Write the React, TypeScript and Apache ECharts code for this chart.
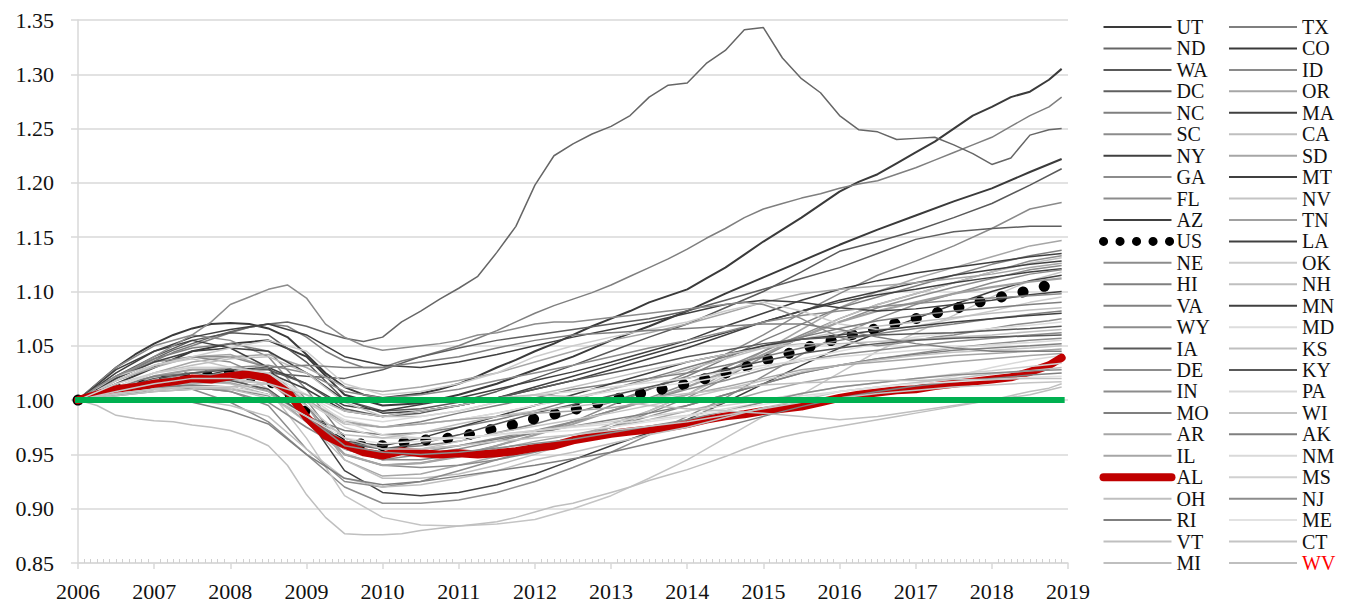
import React, { useEffect, useRef } from "react";
import * as echarts from "echarts";

// x positions (months since Jan 2006)
const QUARTER_MONTHS = [0, 3, 6, 9, 12, 15, 18, 21, 24, 27, 30, 33, 36, 39, 42, 45, 48, 51, 54, 57, 60, 63, 66, 69, 72, 75, 78, 81, 84, 87, 90, 93, 96, 99, 102, 105, 108, 111, 114, 117, 120, 123, 126, 129, 132, 135, 138, 141, 144, 147, 150, 153, 155];
const HALF_MONTHS = [0, 6, 12, 18, 24, 30, 36, 42, 48, 54, 60, 66, 72, 78, 84, 90, 96, 102, 108, 114, 120, 126, 132, 138, 144, 150, 155];

// quarterly series
const UT = [1.000, 1.015, 1.030, 1.042, 1.052, 1.060, 1.066, 1.070, 1.071, 1.070, 1.066, 1.058, 1.042, 1.025, 1.012, 1.005, 1.002, 1.004, 1.006, 1.010, 1.015, 1.022, 1.030, 1.037, 1.045, 1.052, 1.060, 1.068, 1.075, 1.082, 1.090, 1.096, 1.102, 1.112, 1.122, 1.134, 1.146, 1.157, 1.168, 1.180, 1.192, 1.201, 1.208, 1.218, 1.228, 1.238, 1.250, 1.262, 1.270, 1.279, 1.284, 1.295, 1.305];
const TX = [1.000, 1.010, 1.020, 1.028, 1.036, 1.044, 1.050, 1.056, 1.062, 1.067, 1.070, 1.068, 1.058, 1.045, 1.036, 1.030, 1.030, 1.036, 1.040, 1.045, 1.050, 1.057, 1.064, 1.072, 1.080, 1.087, 1.093, 1.099, 1.106, 1.114, 1.122, 1.130, 1.139, 1.149, 1.158, 1.168, 1.176, 1.181, 1.186, 1.190, 1.195, 1.199, 1.202, 1.208, 1.214, 1.221, 1.228, 1.235, 1.242, 1.252, 1.262, 1.270, 1.279];
const ND = [1.000, 1.012, 1.022, 1.030, 1.038, 1.046, 1.052, 1.058, 1.063, 1.067, 1.070, 1.072, 1.068, 1.062, 1.057, 1.054, 1.058, 1.072, 1.082, 1.093, 1.103, 1.114, 1.136, 1.160, 1.198, 1.225, 1.236, 1.245, 1.252, 1.262, 1.279, 1.290, 1.292, 1.310, 1.322, 1.341, 1.343, 1.315, 1.296, 1.283, 1.262, 1.249, 1.247, 1.240, 1.241, 1.242, 1.235, 1.227, 1.217, 1.223, 1.244, 1.249, 1.250];
const US = [1.000, 1.005, 1.009, 1.012, 1.016, 1.019, 1.021, 1.023, 1.025, 1.022, 1.018, 1.008, 0.988, 0.972, 0.963, 0.959, 0.958, 0.961, 0.963, 0.964, 0.966, 0.970, 0.974, 0.978, 0.983, 0.987, 0.991, 0.996, 1.000, 1.004, 1.008, 1.011, 1.015, 1.020, 1.025, 1.030, 1.036, 1.041, 1.047, 1.052, 1.057, 1.062, 1.066, 1.071, 1.075, 1.080, 1.084, 1.089, 1.093, 1.097, 1.101, 1.106, 1.109];
const WY = [1.000, 1.012, 1.022, 1.030, 1.040, 1.050, 1.060, 1.072, 1.088, 1.095, 1.102, 1.106, 1.094, 1.070, 1.058, 1.050, 1.046, 1.048, 1.050, 1.052, 1.055, 1.060, 1.062, 1.066, 1.070, 1.072, 1.072, 1.074, 1.076, 1.078, 1.080, 1.082, 1.084, 1.086, 1.088, 1.090, 1.088, 1.082, 1.075, 1.066, 1.058, 1.052, 1.050, 1.052, 1.055, 1.058, 1.060, 1.063, 1.066, 1.069, 1.071, 1.073, 1.075];
const AL = [1.000, 1.005, 1.010, 1.012, 1.015, 1.017, 1.020, 1.019, 1.022, 1.024, 1.020, 1.008, 0.984, 0.967, 0.959, 0.952, 0.949, 0.953, 0.951, 0.950, 0.951, 0.950, 0.951, 0.953, 0.956, 0.958, 0.963, 0.966, 0.969, 0.971, 0.973, 0.975, 0.978, 0.982, 0.985, 0.987, 0.990, 0.992, 0.994, 0.998, 1.002, 1.005, 1.007, 1.009, 1.010, 1.013, 1.015, 1.017, 1.019, 1.021, 1.026, 1.032, 1.039];
const MI = [1.000, 0.995, 0.986, 0.983, 0.981, 0.980, 0.977, 0.975, 0.972, 0.966, 0.958, 0.940, 0.913, 0.892, 0.877, 0.876, 0.876, 0.877, 0.880, 0.882, 0.884, 0.886, 0.888, 0.892, 0.897, 0.902, 0.905, 0.910, 0.915, 0.920, 0.926, 0.931, 0.936, 0.942, 0.948, 0.955, 0.961, 0.966, 0.970, 0.973, 0.976, 0.979, 0.982, 0.985, 0.988, 0.991, 0.994, 0.997, 1.000, 1.004, 1.008, 1.011, 1.015];

// half-yearly series
const CO = [1.000, 1.015, 1.030, 1.045, 1.052, 1.055, 1.040, 1.005, 0.995, 0.997, 1.005, 1.015, 1.028, 1.040, 1.055, 1.068, 1.082, 1.098, 1.113, 1.128, 1.143, 1.157, 1.170, 1.183, 1.195, 1.210, 1.222];
const WA = [1.000, 1.022, 1.040, 1.055, 1.062, 1.060, 1.035, 1.000, 0.990, 0.992, 0.998, 1.008, 1.020, 1.032, 1.045, 1.058, 1.070, 1.085, 1.100, 1.118, 1.137, 1.146, 1.156, 1.168, 1.181, 1.198, 1.213];
const ID = [1.000, 1.030, 1.050, 1.060, 1.055, 1.040, 1.000, 0.955, 0.945, 0.945, 0.950, 0.958, 0.968, 0.980, 0.995, 1.010, 1.025, 1.042, 1.060, 1.080, 1.098, 1.115, 1.128, 1.142, 1.158, 1.176, 1.182];
const DC = [1.000, 1.008, 1.012, 1.018, 1.022, 1.025, 1.022, 1.020, 1.028, 1.040, 1.048, 1.055, 1.060, 1.065, 1.070, 1.075, 1.082, 1.092, 1.102, 1.112, 1.122, 1.135, 1.148, 1.155, 1.158, 1.160, 1.160];
const OR = [1.000, 1.018, 1.030, 1.040, 1.042, 1.030, 0.995, 0.945, 0.930, 0.932, 0.940, 0.948, 0.955, 0.965, 0.978, 0.990, 1.005, 1.025, 1.045, 1.065, 1.085, 1.100, 1.112, 1.122, 1.132, 1.142, 1.147];
const NC = [1.000, 1.020, 1.038, 1.048, 1.052, 1.045, 1.010, 0.965, 0.955, 0.958, 0.962, 0.970, 0.978, 0.988, 0.998, 1.010, 1.022, 1.038, 1.055, 1.070, 1.085, 1.095, 1.105, 1.115, 1.125, 1.133, 1.138];
const MA = [1.000, 1.006, 1.012, 1.020, 1.028, 1.030, 1.015, 0.995, 0.990, 0.996, 1.002, 1.010, 1.018, 1.026, 1.035, 1.045, 1.055, 1.068, 1.080, 1.092, 1.102, 1.110, 1.117, 1.122, 1.127, 1.132, 1.135];
const SC = [1.000, 1.018, 1.032, 1.040, 1.040, 1.030, 0.995, 0.955, 0.945, 0.950, 0.955, 0.962, 0.970, 0.980, 0.990, 1.002, 1.015, 1.030, 1.045, 1.060, 1.075, 1.088, 1.098, 1.108, 1.118, 1.128, 1.133];
const CA = [1.000, 1.010, 1.015, 1.018, 1.015, 1.005, 0.980, 0.945, 0.928, 0.928, 0.932, 0.940, 0.950, 0.962, 0.975, 0.990, 1.005, 1.022, 1.040, 1.058, 1.075, 1.088, 1.098, 1.108, 1.118, 1.126, 1.131];
const NY = [1.000, 1.008, 1.015, 1.020, 1.025, 1.025, 1.010, 0.990, 0.985, 0.990, 0.995, 1.002, 1.010, 1.018, 1.028, 1.038, 1.048, 1.060, 1.072, 1.082, 1.092, 1.100, 1.108, 1.115, 1.120, 1.125, 1.128];
const SD = [1.000, 1.012, 1.025, 1.035, 1.040, 1.042, 1.030, 1.012, 1.008, 1.012, 1.018, 1.025, 1.035, 1.045, 1.055, 1.062, 1.070, 1.080, 1.090, 1.098, 1.102, 1.105, 1.108, 1.112, 1.116, 1.122, 1.126];
const GA = [1.000, 1.020, 1.035, 1.040, 1.035, 1.020, 0.985, 0.950, 0.940, 0.938, 0.940, 0.945, 0.952, 0.962, 0.975, 0.988, 1.002, 1.020, 1.040, 1.058, 1.072, 1.085, 1.095, 1.104, 1.112, 1.120, 1.124];
const MT = [1.000, 1.020, 1.035, 1.045, 1.048, 1.045, 1.025, 1.000, 0.988, 0.990, 0.995, 1.002, 1.012, 1.022, 1.032, 1.042, 1.052, 1.062, 1.072, 1.082, 1.090, 1.097, 1.102, 1.108, 1.113, 1.118, 1.121];
const FL = [1.000, 1.012, 1.015, 1.010, 0.998, 0.980, 0.950, 0.920, 0.905, 0.905, 0.908, 0.915, 0.925, 0.938, 0.952, 0.968, 0.985, 1.002, 1.022, 1.042, 1.060, 1.075, 1.088, 1.098, 1.108, 1.116, 1.120];
const NV = [1.000, 1.022, 1.032, 1.038, 1.030, 1.010, 0.965, 0.912, 0.892, 0.885, 0.884, 0.886, 0.890, 0.900, 0.912, 0.928, 0.945, 0.965, 0.985, 1.005, 1.025, 1.045, 1.062, 1.078, 1.095, 1.110, 1.118];
const AZ = [1.000, 1.028, 1.045, 1.055, 1.048, 1.030, 0.985, 0.935, 0.915, 0.912, 0.915, 0.922, 0.932, 0.945, 0.958, 0.970, 0.982, 0.998, 1.015, 1.032, 1.048, 1.062, 1.075, 1.088, 1.100, 1.110, 1.115];
const TN = [1.000, 1.012, 1.022, 1.028, 1.028, 1.018, 0.988, 0.950, 0.940, 0.942, 0.948, 0.958, 0.968, 0.978, 0.990, 1.000, 1.012, 1.026, 1.042, 1.058, 1.072, 1.082, 1.090, 1.098, 1.104, 1.109, 1.112];
const LA = [1.000, 1.025, 1.045, 1.058, 1.065, 1.070, 1.060, 1.040, 1.032, 1.030, 1.035, 1.042, 1.050, 1.058, 1.065, 1.072, 1.080, 1.088, 1.092, 1.090, 1.085, 1.082, 1.084, 1.088, 1.092, 1.097, 1.100];
const NE = [1.000, 1.008, 1.018, 1.025, 1.030, 1.032, 1.025, 1.008, 1.002, 1.005, 1.010, 1.018, 1.025, 1.032, 1.040, 1.048, 1.055, 1.063, 1.072, 1.078, 1.082, 1.086, 1.089, 1.092, 1.094, 1.096, 1.098];
const OK = [1.000, 1.018, 1.032, 1.040, 1.048, 1.055, 1.045, 1.015, 1.005, 1.008, 1.015, 1.025, 1.040, 1.050, 1.058, 1.065, 1.072, 1.082, 1.090, 1.082, 1.070, 1.065, 1.068, 1.075, 1.082, 1.090, 1.095];
const HI = [1.000, 1.012, 1.022, 1.025, 1.020, 1.008, 0.985, 0.972, 0.968, 0.970, 0.975, 0.982, 0.990, 1.000, 1.010, 1.020, 1.030, 1.040, 1.050, 1.058, 1.066, 1.073, 1.078, 1.082, 1.085, 1.088, 1.090];
const NH = [1.000, 1.005, 1.010, 1.015, 1.018, 1.015, 0.998, 0.978, 0.975, 0.978, 0.982, 0.988, 0.995, 1.002, 1.010, 1.018, 1.028, 1.038, 1.048, 1.056, 1.063, 1.068, 1.072, 1.076, 1.080, 1.083, 1.085];
const VA = [1.000, 1.010, 1.018, 1.022, 1.025, 1.020, 1.000, 0.980, 0.975, 0.980, 0.988, 0.995, 1.002, 1.010, 1.015, 1.020, 1.025, 1.032, 1.040, 1.048, 1.055, 1.061, 1.066, 1.070, 1.075, 1.079, 1.082];
const MN = [1.000, 1.005, 1.010, 1.012, 1.012, 1.005, 0.985, 0.962, 0.958, 0.965, 0.975, 0.985, 0.995, 1.005, 1.015, 1.025, 1.035, 1.042, 1.050, 1.056, 1.060, 1.064, 1.068, 1.072, 1.075, 1.078, 1.080];
const MD = [1.000, 1.008, 1.015, 1.018, 1.020, 1.015, 1.000, 0.982, 0.975, 0.978, 0.982, 0.988, 0.995, 1.002, 1.008, 1.012, 1.016, 1.022, 1.030, 1.038, 1.045, 1.052, 1.058, 1.062, 1.066, 1.069, 1.072];
const IA = [1.000, 1.010, 1.020, 1.025, 1.028, 1.028, 1.015, 0.992, 0.985, 0.988, 0.995, 1.002, 1.010, 1.018, 1.025, 1.032, 1.040, 1.046, 1.052, 1.056, 1.058, 1.060, 1.061, 1.062, 1.064, 1.066, 1.068];
const KS = [1.000, 1.012, 1.025, 1.032, 1.038, 1.040, 1.025, 0.998, 0.985, 0.985, 0.990, 0.998, 1.005, 1.012, 1.020, 1.028, 1.035, 1.042, 1.048, 1.052, 1.052, 1.054, 1.056, 1.058, 1.060, 1.063, 1.065];
const DE = [1.000, 1.005, 1.010, 1.012, 1.008, 0.998, 0.975, 0.955, 0.950, 0.952, 0.958, 0.965, 0.972, 0.980, 0.990, 1.000, 1.010, 1.018, 1.028, 1.036, 1.042, 1.046, 1.050, 1.054, 1.057, 1.060, 1.062];
const KY = [1.000, 1.008, 1.015, 1.018, 1.018, 1.010, 0.985, 0.960, 0.955, 0.960, 0.968, 0.978, 0.988, 0.996, 1.004, 1.012, 1.020, 1.028, 1.036, 1.043, 1.048, 1.052, 1.055, 1.057, 1.058, 1.059, 1.060];
const IN = [1.000, 1.008, 1.012, 1.012, 1.008, 0.995, 0.955, 0.925, 0.920, 0.925, 0.935, 0.945, 0.955, 0.965, 0.975, 0.985, 0.995, 1.005, 1.015, 1.025, 1.032, 1.038, 1.043, 1.048, 1.052, 1.055, 1.057];
const PA = [1.000, 1.006, 1.012, 1.016, 1.020, 1.020, 1.005, 0.985, 0.980, 0.985, 0.990, 0.998, 1.005, 1.008, 1.012, 1.016, 1.020, 1.026, 1.032, 1.036, 1.040, 1.043, 1.046, 1.048, 1.051, 1.053, 1.055];
const MO = [1.000, 1.006, 1.012, 1.014, 1.012, 1.005, 0.985, 0.962, 0.955, 0.955, 0.958, 0.964, 0.970, 0.976, 0.982, 0.988, 0.995, 1.005, 1.015, 1.025, 1.032, 1.038, 1.042, 1.046, 1.048, 1.050, 1.052];
const WI = [1.000, 1.005, 1.010, 1.012, 1.012, 1.005, 0.980, 0.955, 0.950, 0.955, 0.962, 0.970, 0.976, 0.982, 0.988, 0.995, 1.002, 1.010, 1.018, 1.026, 1.032, 1.037, 1.041, 1.044, 1.046, 1.048, 1.050];
const AR = [1.000, 1.010, 1.018, 1.022, 1.022, 1.018, 1.000, 0.980, 0.975, 0.978, 0.982, 0.985, 0.988, 0.990, 0.993, 0.998, 1.005, 1.012, 1.020, 1.028, 1.032, 1.035, 1.038, 1.041, 1.043, 1.045, 1.047];
const AK = [1.000, 1.008, 1.015, 1.020, 1.025, 1.030, 1.032, 1.030, 1.030, 1.035, 1.040, 1.048, 1.055, 1.060, 1.062, 1.064, 1.066, 1.068, 1.070, 1.070, 1.065, 1.058, 1.052, 1.048, 1.045, 1.045, 1.045];
const IL = [1.000, 1.008, 1.012, 1.016, 1.016, 1.008, 0.980, 0.950, 0.940, 0.942, 0.948, 0.955, 0.962, 0.968, 0.975, 0.982, 0.990, 0.998, 1.008, 1.016, 1.022, 1.027, 1.031, 1.035, 1.038, 1.041, 1.043];
const NM = [1.000, 1.012, 1.025, 1.030, 1.030, 1.025, 1.005, 0.980, 0.968, 0.965, 0.965, 0.968, 0.972, 0.975, 0.978, 0.982, 0.986, 0.992, 0.998, 1.004, 1.008, 1.012, 1.016, 1.022, 1.030, 1.037, 1.041];
const MS = [1.000, 1.015, 1.025, 1.030, 1.030, 1.025, 1.000, 0.975, 0.965, 0.965, 0.965, 0.968, 0.972, 0.976, 0.980, 0.985, 0.990, 0.995, 1.000, 1.006, 1.012, 1.016, 1.020, 1.024, 1.027, 1.031, 1.034];
const OH = [1.000, 1.002, 1.002, 1.000, 0.995, 0.985, 0.955, 0.928, 0.920, 0.922, 0.928, 0.935, 0.945, 0.952, 0.960, 0.968, 0.975, 0.984, 0.993, 1.000, 1.008, 1.012, 1.016, 1.020, 1.024, 1.027, 1.030];
const NJ = [1.000, 1.004, 1.008, 1.010, 1.010, 1.004, 0.985, 0.958, 0.952, 0.950, 0.952, 0.956, 0.960, 0.964, 0.970, 0.976, 0.982, 0.990, 0.998, 1.006, 1.012, 1.016, 1.020, 1.023, 1.025, 1.027, 1.028];
const RI = [1.000, 1.002, 1.002, 0.998, 0.990, 0.978, 0.950, 0.928, 0.922, 0.925, 0.930, 0.935, 0.940, 0.946, 0.952, 0.960, 0.968, 0.976, 0.985, 0.994, 1.002, 1.008, 1.013, 1.017, 1.020, 1.023, 1.025];
const ME = [1.000, 1.006, 1.010, 1.012, 1.012, 1.005, 0.985, 0.965, 0.960, 0.962, 0.965, 0.968, 0.970, 0.972, 0.975, 0.980, 0.985, 0.990, 0.996, 1.002, 1.008, 1.012, 1.015, 1.017, 1.019, 1.021, 1.022];
const VT = [1.000, 1.006, 1.010, 1.012, 1.010, 1.002, 0.985, 0.968, 0.965, 0.970, 0.978, 0.985, 0.990, 0.994, 0.998, 1.002, 1.006, 1.010, 1.014, 1.016, 1.017, 1.018, 1.018, 1.019, 1.019, 1.020, 1.020];
const CT = [1.000, 1.008, 1.015, 1.020, 1.020, 1.015, 0.995, 0.965, 0.955, 0.955, 0.958, 0.962, 0.965, 0.968, 0.972, 0.976, 0.980, 0.986, 0.992, 0.998, 1.002, 1.006, 1.009, 1.012, 1.014, 1.016, 1.017];
const WV = [1.000, 1.004, 1.008, 1.010, 1.012, 1.015, 1.005, 0.990, 0.985, 0.990, 0.995, 1.002, 1.005, 1.003, 1.000, 0.995, 0.992, 0.990, 0.988, 0.985, 0.982, 0.985, 0.990, 0.995, 1.000, 1.005, 1.012];

const BASELINE = [1, 1];
const BASELINE_MONTHS = [0, 155];

const LEGEND_LEFT = ["UT", "ND", "WA", "DC", "NC", "SC", "NY", "GA", "FL", "AZ", "US", "NE", "HI", "VA", "WY", "IA", "DE", "IN", "MO", "AR", "IL", "AL", "OH", "RI", "VT", "MI"];
const LEGEND_RIGHT = ["TX", "CO", "ID", "OR", "MA", "CA", "SD", "MT", "NV", "TN", "LA", "OK", "NH", "MN", "MD", "KS", "KY", "PA", "WI", "AK", "NM", "MS", "NJ", "ME", "CT", "WV"];

const VALUES: Record<string, number[]> = {
  UT, TX, ND, CO, WA, ID, DC, OR, NC, MA, SC, CA, NY, SD, GA, MT, FL, NV, AZ, TN, US, LA, NE, OK, HI, NH, VA, MN, WY, MD,
  IA, KS, DE, KY, IN, PA, MO, WI, AR, AK, IL, NM, AL, MS, OH, NJ, RI, ME, VT, CT, MI, WV,
};

const COLORS: Record<string, string> = {
  UT: "#3a3a3a", TX: "#7f7f7f", ND: "#666666", CO: "#3a3a3a", WA: "#595959", ID: "#8a8a8a", DC: "#5f5f5f", OR: "#a6a6a6",
  NC: "#7f7f7f", MA: "#404040", SC: "#8c8c8c", CA: "#bfbfbf", NY: "#404040", SD: "#a6a6a6", GA: "#8c8c8c", MT: "#404040",
  FL: "#8c8c8c", NV: "#c4c4c4", AZ: "#404040", TN: "#a0a0a0", US: "#000000", LA: "#404040", NE: "#8c8c8c", OK: "#cccccc",
  HI: "#7f7f7f", NH: "#bfbfbf", VA: "#808080", MN: "#404040", WY: "#8c8c8c", MD: "#dddddd", IA: "#595959", KS: "#bfbfbf",
  DE: "#8c8c8c", KY: "#595959", IN: "#8c8c8c", PA: "#d9d9d9", MO: "#7f7f7f", WI: "#c4c4c4", AR: "#a6a6a6", AK: "#7f7f7f",
  IL: "#a6a6a6", NM: "#d9d9d9", AL: "#c00000", MS: "#d0d0d0", OH: "#bfbfbf", NJ: "#8c8c8c", RI: "#7f7f7f", ME: "#e2e2e2",
  VT: "#bfbfbf", CT: "#c4c4c4", MI: "#bfbfbf", WV: "#bfbfbf",
};

const FONT = "Liberation Serif";

function buildSeries() {
  const order: string[] = [];
  for (let i = 0; i < LEGEND_LEFT.length; i++) {
    order.push(LEGEND_LEFT[i]);
    order.push(LEGEND_RIGHT[i]);
  }
  const series: any[] = order.map((name) => {
    const vals = VALUES[name];
    const months = vals.length === QUARTER_MONTHS.length ? QUARTER_MONTHS : HALF_MONTHS;
    const data = vals.map((v, i) => [months[i], v]);
    let lineStyle: any = { color: COLORS[name], width: 1.5 };
    if (name === "UT" || name === "CO") lineStyle.width = 2;
    if (name === "TN") lineStyle.width = 2.2;
    if (name === "US") lineStyle = { color: "#000", width: 11, type: [0.1, 21.9], cap: "round" };
    if (name === "AL") lineStyle = { color: "#c00000", width: 8, cap: "round", join: "round" };
    return {
      type: "line",
      name,
      data,
      symbol: "none",
      showSymbol: false,
      color: COLORS[name],
      lineStyle,
      silent: true,
      emphasis: { disabled: true },
    };
  });
  series.push({
    type: "line",
    name: "baseline",
    data: BASELINE.map((v, i) => [BASELINE_MONTHS[i], v]),
    symbol: "none",
    color: "#00b050",
    lineStyle: { color: "#00b050", width: 6, cap: "square" },
    silent: true,
    emphasis: { disabled: true },
  });
  return series;
}

function legendData(list: string[]) {
  return list.map((n) => {
    if (n === "WV") return { name: n, textStyle: { color: "#ff0000" } };
    if (n === "US") return { name: n, lineStyle: { type: [0.1, 16.4], width: 9, cap: "round" } };
    if (n === "AL") return { name: n, lineStyle: { width: 8, cap: "round", color: "#c00000" } };
    return { name: n };
  });
}

const legendBase = {
  orient: "vertical",
  top: 17,
  itemWidth: 68,
  itemHeight: 20,
  itemGap: 1.44,
  padding: 0,
  selectedMode: false,
  itemStyle: { opacity: 0, borderWidth: 0 },
  textStyle: { fontFamily: FONT, fontSize: 20, color: "#111111", lineHeight: 20 },
};

export default function App() {
  const ref = useRef<HTMLDivElement>(null);
  useEffect(() => {
    document.body.style.margin = "0";
    const chart = echarts.init(ref.current!, undefined, { renderer: "svg" });
    chart.setOption({
      animation: false,
      backgroundColor: "#ffffff",
      textStyle: { fontFamily: FONT },
      grid: { left: 78, right: 285, top: 20, bottom: 42 },
      legend: [
        { ...legendBase, left: 1099, data: legendData(LEGEND_LEFT) },
        { ...legendBase, left: 1228, data: legendData(LEGEND_RIGHT) },
      ],
      xAxis: [
        {
          type: "value",
          min: 0,
          max: 156,
          interval: 12,
          axisLine: { show: true, lineStyle: { color: "#d9d9d9", width: 1.5 } },
          axisTick: { show: true, length: 6, lineStyle: { color: "#d9d9d9", width: 1.5 } },
          axisLabel: {
            margin: 17,
            fontFamily: FONT,
            fontSize: 22,
            color: "#111111",
            formatter: (v: number) => String(2006 + Math.round(v / 12)),
          },
          splitLine: { show: false },
        },
        {
          type: "value",
          min: 0,
          max: 156,
          interval: 12,
          position: "bottom",
          offset: 0,
          axisLine: { show: false },
          axisTick: { show: false, inside: true },
          axisLabel: { show: false },
          minorTick: { show: true, splitNumber: 12, length: 4, lineStyle: { color: "#d0d0d0", width: 1 } },
          splitLine: { show: false },
        },
      ],
      yAxis: {
        type: "value",
        min: 0.85,
        max: 1.35,
        interval: 0.05,
        axisLine: { show: true, lineStyle: { color: "#d9d9d9", width: 1.5 } },
        axisTick: { show: true, length: 7, lineStyle: { color: "#d9d9d9", width: 1.5 } },
        axisLabel: {
          margin: 24,
          fontFamily: FONT,
          fontSize: 22,
          color: "#111111",
          formatter: (v: number) => v.toFixed(2),
        },
        splitLine: { show: true, lineStyle: { color: "#d9d9d9", width: 1.5 } },
      },
      series: buildSeries(),
    });
    return () => chart.dispose();
  }, []);
  return <div ref={ref} style={{ width: 1353, height: 605 }} />;
}
